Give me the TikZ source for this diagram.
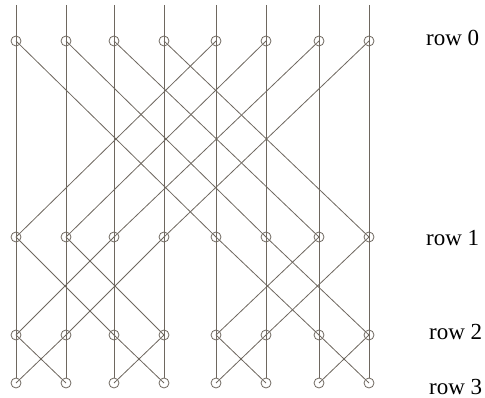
\documentclass[tikz,border=0pt]{standalone}
\usepackage{fontspec}
\setmainfont{Liberation Serif}
\usetikzlibrary{positioning}
\definecolor{wirecol}{HTML}{6E675F}

\begin{document}
\begin{tikzpicture}[x=1pt, y=-1pt,
  cell/.style={circle, draw=wirecol, line width=0.8pt, minimum size=10pt, inner sep=0pt},
  wire/.style={draw=wirecol, line width=0.8pt},
  lbl/.style={font=\fontsize{23}{26}\selectfont, anchor=west, inner sep=0pt}]
  \useasboundingbox (0,0) rectangle (485,398);
  \foreach \x [count=\c from 0] in {16,66,114,164,216,266,319,369} {
    \coordinate (t\c) at (\x,5);
    \foreach \y [count=\r from 0] in {41,237,335,383}
      \node[cell] (n\r-\c) at (\x,\y) {};
  }
  % columns
  \foreach \c in {0,...,7} \draw[wire] (t\c) -- (n3-\c.north);
  % butterfly links, stride 4, 2, 1
  \foreach \r/\s in {0/4,1/2,2/1} {
    \pgfmathtruncatemacro\nx{\r+1}
    \foreach \c in {0,...,7} {
      \pgfmathtruncatemacro\p{mod(floor(\c/\s),2)==0 ? \c+\s : \c-\s}
      \draw[wire] (n\r-\c.center) -- (n\nx-\p.center);
    }
  }
  \node[lbl] (l0) at (426,38) {row 0};
  \node[lbl] (l1) at (426,238) {row 1};
  \node[lbl] (l2) at (429,332) {row 2};
  \node[lbl] (l3) at (429,387) {row 3};
\end{tikzpicture}
\end{document}
